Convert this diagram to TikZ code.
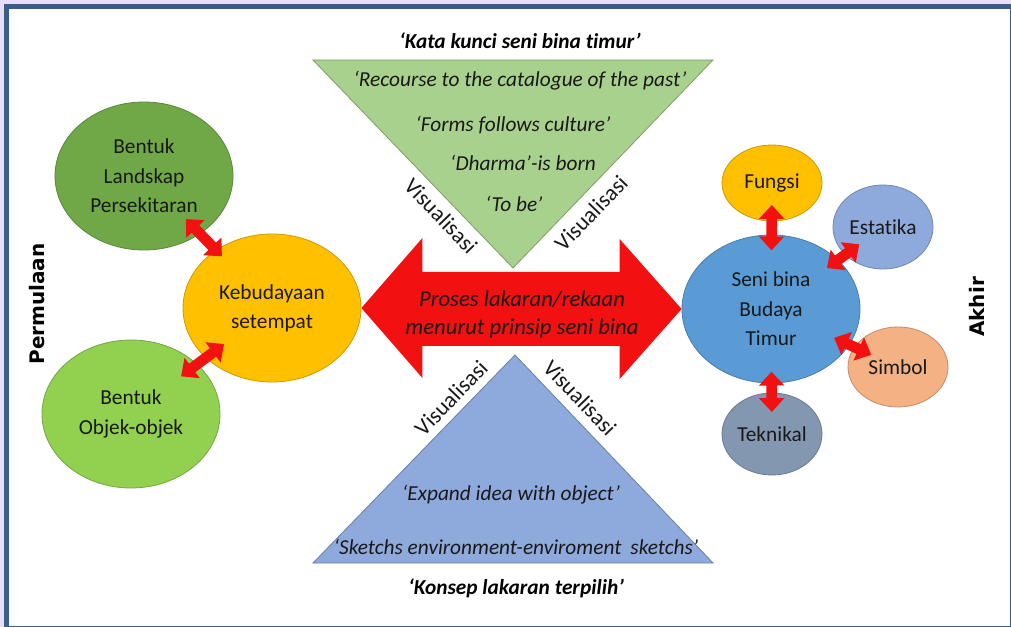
\documentclass[tikz,border=0pt]{standalone}
\usepackage{fontspec}
\setmainfont{Carlito}[Ligatures={TeX,NoCommon}]
\newfontfamily\sidefont{DejaVu Sans}
\usetikzlibrary{arrows.meta,calc,shapes.geometric}
\definecolor{lav}{RGB}{232,222,248}
\definecolor{frameblue}{RGB}{58,94,140}
\definecolor{dkgreen}{RGB}{112,168,71}
\definecolor{ltgreen}{RGB}{146,208,80}
\definecolor{orng}{RGB}{255,192,0}
\definecolor{midblue}{RGB}{91,155,213}
\definecolor{lavblue}{RGB}{142,169,219}
\definecolor{peach}{RGB}{244,177,131}
\definecolor{slate}{RGB}{132,151,176}
\definecolor{trigreen}{RGB}{169,209,142}
\definecolor{arrred}{RGB}{242,16,16}
\definecolor{txt}{RGB}{25,25,25}
\begin{document}
\begin{tikzpicture}[x=0.75pt,y=-0.75pt,
  blob/.style={ellipse, inner sep=0pt, draw=#1!80!black, fill=#1, line width=0.6pt,
    text=txt, align=center, font=\fontsize{16}{22}\selectfont},
  bigblob/.style={blob=#1, minimum width=133.5pt, minimum height=111pt},
  smallblob/.style={blob=#1, minimum width=75pt, minimum height=60pt},
  fat/.style={draw=arrred, line width=8pt,
    {Triangle[length=0pt 1.3, width=0pt 2.3]}-{Triangle[length=0pt 1.3, width=0pt 2.3]}},
  tritext/.style={text=txt, inner sep=0pt, font=\fontsize{16}{20}\selectfont\itshape},
  tititle/.style={text=black, inner sep=0pt, font=\fontsize{16}{20}\selectfont\bfseries\itshape},
  vis/.style={text=txt, inner sep=0pt, font=\fontsize{17}{20}\selectfont},
  side/.style={text=black, inner sep=0pt, rotate=90, font=\sidefont\bfseries\fontsize{15}{18}\selectfont}
]
\useasboundingbox (0,0) rectangle (1011,627);
\fill[lav] (0,0) rectangle (1011,627);
\draw[frameblue, line width=3.75pt, fill=white] (6.5,6.5) rectangle (1012,628);

% triangles
\draw[fill=trigreen, draw=trigreen!75!black, line width=0.6pt] (313,60) -- (713,60) -- (513,268) -- cycle;
\draw[fill=lavblue, draw=lavblue!75!black, line width=0.6pt] (515,355) -- (713,563) -- (313,563) -- cycle;

% left cluster
\node[bigblob=dkgreen] (land) at (144,176) {Bentuk\\Landskap\\Persekitaran};
\node[bigblob=ltgreen] (obj) at (131,414) {Bentuk\\Objek-objek};
\node[bigblob=orng] (keb) at (272,308) {Kebudayaan\\setempat};

% right cluster
\node[bigblob=midblue] (seni) at (771,309) {Seni bina\\Budaya\\Timur};
\node[smallblob=orng, minimum height=57pt] (fungsi) at (772,183) {Fungsi};
\node[smallblob=lavblue, minimum height=63pt] (est) at (883,227) {Estatika};
\node[smallblob=peach] (simbol) at (898,367) {Simbol};
\node[smallblob=slate, minimum height=61.5pt] (tek) at (772,434) {Teknikal};

% big double arrow
\fill[arrred] (keb.east) -- ($(keb.east)+(61,-70)$) -- ($(keb.east)+(61,-36)$)
  -- ($(seni.west)+(-62,-37)$) -- ($(seni.west)+(-62,-70)$) -- (seni.west)
  -- ($(seni.west)+(-62,70)$) -- ($(seni.west)+(-62,37)$)
  -- ($(keb.east)+(61,38)$) -- ($(keb.east)+(61,70)$) -- cycle;
\node[text=txt, align=center, inner sep=0pt, font=\fontsize{17}{21}\selectfont\itshape] (proc) at (522,314)
  {Proses lakaran/rekaan\\menurut prinsip seni bina};

% small arrows
\draw[fat, shorten <=16.5pt, shorten >=44pt] (fungsi.center) -- (seni.center);
\draw[fat, shorten <=22pt, shorten >=52pt] (est.center) -- (seni.center);
\draw[fat, shorten <=22pt, shorten >=52pt] (simbol.center) -- (seni.center);
\draw[fat, shorten <=16.5pt, shorten >=47pt] (tek.center) -- (seni.center);
\draw[fat, shorten <=45pt, shorten >=54pt] (land.center) -- (keb.center);
\draw[fat, shorten <=47pt, shorten >=45pt] (obj.center) -- (keb.center);

% top triangle texts
\node[tititle] (ttop) at (520,41) {‘Kata kunci seni bina timur’};
\node[tritext] (t1) at (520,81) {‘Recourse to the catalogue of the past’};
\node[tritext] (t2) at (513,125) {‘Forms follows culture’};
\node[tritext] (t3) at (523,163) {‘Dharma’-is born};
\node[tritext] (t4) at (514,204) {‘To be’};
\node[vis, rotate=-46] (v1) at (441,216) {Visualisasi};
\node[vis, rotate=46] (v2) at (591,213) {Visualisasi};

% bottom triangle texts
\node[vis, rotate=46] (v3) at (451,398) {Visualisasi};
\node[vis, rotate=-46] (v4) at (580,398) {Visualisasi};
\node[tritext] (b1) at (511,495) {‘Expand idea with object’};
\node[tritext] (b2) at (516,547) {‘Sketchs environment-enviroment\hspace{0.2em} sketchs’};
\node[tititle] (bbot) at (516,588) {‘Konsep lakaran terpilih’};

% side labels
\node[side] (perm) at (37,304) {Permulaan};
\node[side] (akhir) at (977,307) {Akhir};
\end{tikzpicture}
\end{document}
